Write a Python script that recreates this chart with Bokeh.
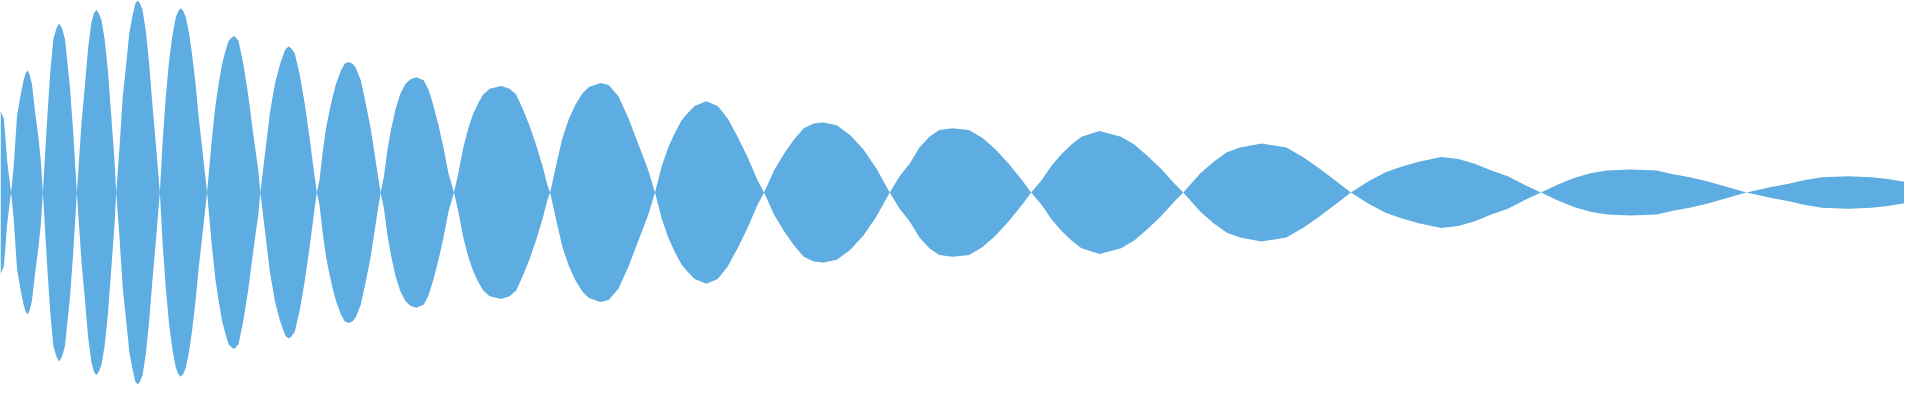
from bokeh.plotting import figure
from bokeh.models import Range1d, ColumnDataSource
from bokeh.embed import file_html
from bokeh.resources import INLINE

# Position along the signal and half-width of the band
x_vals = [
    0, 3.3, 5, 6.7, 10, 10.7,
    13.3, 16.7, 20, 23.3, 25.3, 27.3, 29.3, 31.7, 35, 38.3, 40.7, 42.7,
    46.7, 50, 53.3, 56.7, 59.3, 62, 65, 70, 73.3, 77,
    81.7, 85, 88.3, 91.7, 94.3, 96.7, 99, 101.7, 105, 108.3, 111.7, 115, 116.7,
    120, 123.3, 126.7, 130, 133.3, 136, 138.3, 140.7, 143.3, 146.7, 150, 153.3, 156.7, 160.7,
    163.3, 166.7, 170, 173.3, 176.7, 179.3, 181.7, 184.3, 186.7, 190, 193.3, 196.7, 200, 203.3, 208.3,
    213.3, 216.7, 220, 223.3, 226.7, 230, 232.7, 235.3, 237.7, 240, 245, 250, 255, 260, 262,
    266.7, 271.7, 276.7, 281.7, 286.7, 288, 290.7, 293.3, 296.7, 301.7, 306.7, 311.7, 316.7, 319,
    321.7, 325, 328.3, 331.7, 335, 338.3, 343.3, 347, 351, 355, 358.3, 363.3, 368.3, 373.3, 378.3, 383.3,
    386.7, 390, 393.3, 398.3, 403.3, 408.3, 413.3, 419.3, 426.7, 431.7, 436.7, 441.7, 446.7, 451.7, 457.3,
    461.7, 466.7, 471.7, 476.7, 481.7, 486.7, 493.3, 505, 513.3, 520, 526.7, 533.3, 540, 546.7, 551.7, 554.3,
    560, 566.7, 573.3, 580, 586.7, 593.3, 605, 613.3, 623.3, 633.3, 643.3, 650, 653.3, 660,
    666.7, 673.3, 680, 686.7, 693.3, 700, 711.7, 723.3, 733.3, 743.3, 753.3, 763.3, 770,
    780, 790, 800, 810, 820, 830, 843.3, 856.7, 870, 883.3, 896.7,
    906.7, 916.7, 926.7, 936.7, 946.7, 960, 976.7, 990, 1003.3, 1016.7, 1030, 1039.3,
    1050, 1060, 1070, 1080, 1090, 1108.3, 1130, 1143.3, 1156.7, 1170, 1183.3, 1192.7,
    1210, 1223.3, 1236.7, 1250, 1271.7, 1296.7, 1313.3, 1330, 1346.7, 1361.7,
    1380, 1396.7, 1413.3, 1430, 1453, 1470, 1486.7, 1503.3, 1520, 1536.7, 1553.3,
    1570, 1586.7, 1603.3, 1620, 1643.3, 1670, 1686.7, 1703.3, 1720, 1736.7, 1760.7,
    1770, 1786.7, 1803.3, 1820, 1836.7, 1863.3, 1886.7, 1903.3, 1920,
]

half_width = [
    85, 77, 57, 33, 5, 0,
    27, 80, 100, 117, 124, 127, 123, 113, 83, 57, 33, 0,
    70, 123, 160, 172, 176, 171, 160, 110, 63, 0,
    73, 110, 150, 177, 187, 190, 187, 180, 160, 127, 80, 33, 0,
    47, 100, 133, 167, 185, 197, 200, 197, 190, 167, 133, 90, 50, 0,
    50, 100, 137, 163, 182, 189, 192, 189, 183, 167, 143, 113, 77, 47, 0,
    57, 90, 113, 133, 147, 158, 161, 163, 161, 158, 133, 100, 60, 23, 0,
    40, 83, 113, 133, 148, 150, 152, 150, 145, 123, 93, 57, 17, 0,
    13, 43, 67, 85, 100, 113, 127, 134, 136, 134, 130, 117, 93, 67, 33, 0,
    17, 43, 63, 87, 103, 113, 118, 120, 117, 107, 90, 70, 47, 20, 0,
    20, 47, 67, 82, 93, 102, 108, 111, 108, 102, 87, 70, 50, 27, 7, 0,
    27, 57, 77, 92, 103, 110, 114, 112, 100, 77, 50, 32, 23, 0,
    27, 47, 62, 75, 83, 90, 95, 90, 77, 58, 37, 13, 0,
    23, 40, 55, 67, 72, 73, 70, 60, 45, 25, 0,
    17, 30, 47, 58, 65, 67, 65, 57, 45, 30, 13, 0,
    13, 28, 40, 50, 58, 64, 58, 50, 38, 25, 10, 0,
    20, 32, 42, 47, 51, 47, 37, 25, 12, 0,
    12, 21, 27, 32, 37, 35, 30, 23, 17, 8, 0,
    8, 15, 20, 23, 24, 23, 19, 16, 12, 7, 0,
    2, 6, 9, 13, 16, 17, 16, 14, 11,
]

upper = half_width
lower = [-v for v in half_width]

source = ColumnDataSource(data=dict(x=x_vals, upper=upper, lower=lower))

p = figure(
    width=1904, height=384,
    x_range=Range1d(0, 1920), y_range=Range1d(-200, 200),
    output_backend="svg", toolbar_location=None,
    min_border=0,
)
p.varea(x="x", y1="lower", y2="upper", source=source, fill_color="#5DADE2", fill_alpha=1.0)

p.axis.visible = False
p.xgrid.visible = False
p.ygrid.visible = False
p.outline_line_color = None
p.background_fill_color = "white"
p.border_fill_color = "white"

open("out.html", "w").write(file_html(p, INLINE))
